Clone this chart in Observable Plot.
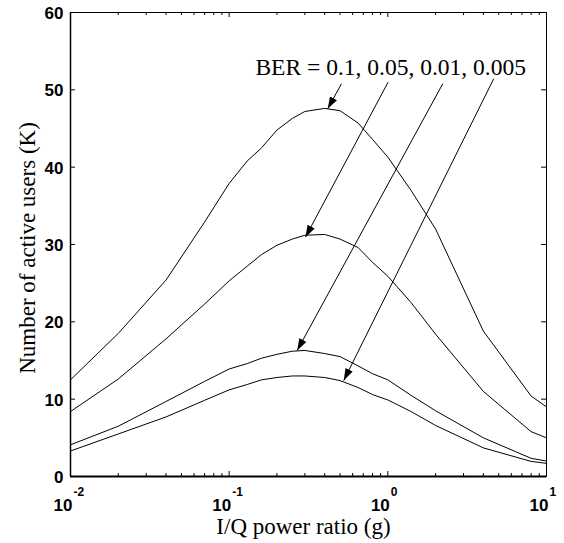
<!DOCTYPE html>
<html><head><meta charset="utf-8">
<script src="https://cdn.jsdelivr.net/npm/d3@7"></script>
<script src="https://cdn.jsdelivr.net/npm/@observablehq/plot@0.6"></script>
<style>body{margin:0;background:#fff}</style>
</head><body><div id="chart"></div>
<script>
// I/Q power ratio g (x) sample points
const gValues = [0.01,0.02,0.04,0.07,0.1,0.13,0.16,0.2,0.25,0.3,0.4,0.5,0.65,0.8,1,1.4,2,4,8,10];
// Number of active users K for each BER
const berLabels = ["0.1","0.05","0.01","0.005"];
const kBer01   = [12.5,18.5,25.4,32.9,37.9,40.8,42.5,44.8,46.3,47.2,47.6,47.3,45.7,43.6,41.3,37.0,32.0,18.8,10.4,9.0];
const kBer005  = [8.4,12.6,17.8,22.3,25.3,27.2,28.7,29.9,30.7,31.2,31.3,30.7,29.6,27.7,25.9,22.5,18.4,11.0,5.8,5.0];
const kBer001  = [4.1,6.5,9.7,12.3,13.9,14.6,15.3,15.8,16.2,16.3,15.9,15.5,14.3,13.3,12.5,10.5,8.5,5.0,2.35,2.0];
const kBer0005 = [3.3,5.5,7.7,9.85,11.2,11.9,12.5,12.8,13.0,13.0,12.8,12.4,11.5,10.6,9.9,8.4,6.6,3.7,1.95,1.7];

// axis ticks
const xMajor = [0.01,0.1,1,10];
const xExp = ["-2","-1","0","1"];
const xMinor = [0.02,0.03,0.04,0.05,0.06,0.07,0.08,0.09,0.2,0.3,0.4,0.5,0.6,0.7,0.8,0.9,2,3,4,5,6,7,8,9];
const yTicks = [0,10,20,30,40,50,60];
const yRight = [10,20,30,40,50];

// annotation: label anchor and arrows (data coordinates)
const annotG = [0.1464];
const annotK = [51.86];
const arrowG1 = [0.510,1.004,2.218,4.648];
const arrowK1 = [50.78,50.99,50.78,51.43];
const arrowG2 = [0.418,0.3026,0.2683,0.5274];
const arrowK2 = [47.55,30.95,16.29,12.41];

const series = [kBer01,kBer005,kBer001,kBer0005];
const table = series.flatMap((ks, s) => ks.map((k, i) => ({g: gValues[i], k, ber: berLabels[s]})));
const arrows = arrowG1.map((d, i) => ({x1: d, y1: arrowK1[i], x2: arrowG2[i], y2: arrowK2[i]}));
const annot = [{g: annotG[0], k: annotK[0], text: "BER = " + berLabels.join(", ")}];

const W = 564, H = 543, mL = 70, mR = 18, mT = 12, mB = 67;
const innerH = H - mT - mB, innerW = W - mL - mR;
const serif = "'Liberation Serif', 'Times New Roman', serif";

const chart = Plot.plot({
  width: W, height: H,
  marginLeft: mL, marginRight: mR, marginTop: mT, marginBottom: mB,
  x: {type: "log", domain: [0.01, 10], axis: null},
  y: {domain: [0, 60], axis: null},
  style: {fontFamily: "'Liberation Sans', Arial, sans-serif", fontSize: "17px", background: "white", color: "black"},
  marks: [
    Plot.line(table, {x: "g", y: "k", z: "ber", stroke: "black", strokeWidth: 1}),
    // ticks (inward)
    Plot.ruleX(xMajor, {insetTop: innerH - 5, stroke: "black"}),
    Plot.ruleX(xMajor, {insetBottom: innerH - 5, stroke: "black"}),
    Plot.ruleX(xMinor, {insetTop: innerH - 3, stroke: "black"}),
    Plot.ruleX(xMinor, {insetBottom: innerH - 3, stroke: "black"}),
    Plot.ruleY(yTicks, {insetRight: innerW - 5, stroke: "black"}),
    Plot.ruleY(yRight, {insetLeft: innerW - 5, stroke: "black"}),
    // frame
    Plot.frame({stroke: "black", strokeWidth: 1}),
    Plot.ruleY([0], {stroke: "black", strokeWidth: 2}),
    Plot.ruleX([0.01], {stroke: "black", strokeWidth: 1.5}),
    // tick labels
    Plot.text(yTicks, {y: d => d, text: d => String(d), frameAnchor: "left", textAnchor: "end", dx: -7, dy: 1, fontSize: 17, fontWeight: "bold"}),
    Plot.text(xMajor, {x: d => d, text: () => "10", frameAnchor: "bottom", textAnchor: "end", lineAnchor: "bottom", dx: 2, dy: 34, fontSize: 17, fontWeight: "bold"}),
    Plot.text(xMajor, {x: d => d, text: (d, i) => xExp[i], frameAnchor: "bottom", textAnchor: "start", lineAnchor: "bottom", dx: 3, dy: 19, fontSize: 12, fontWeight: "bold"}),
    // axis titles
    Plot.text(["I/Q power ratio (g)"], {frameAnchor: "bottom", textAnchor: "middle", lineAnchor: "bottom", dx: -5, dy: 57, fontFamily: serif, fontSize: 23}),
    Plot.text(["Number of active users (K)"], {frameAnchor: "left", textAnchor: "middle", rotate: -90, lineAnchor: "bottom", dx: -35.5, dy: 3.5, fontFamily: serif, fontSize: 23}),
    // annotation
    Plot.text(annot, {x: "g", y: "k", text: "text", textAnchor: "start", lineAnchor: "bottom", fontFamily: serif, fontSize: 23.5}),
    Plot.link(arrows, {x1: "x1", y1: "y1", x2: "x2", y2: "y2", stroke: "black", strokeWidth: 1})
  ]
});

// filled arrowheads
const svg = d3.select(chart);
const marker = svg.append("defs").append("marker")
  .attr("id", "berArrowHead").attr("viewBox", "0 0 12 8")
  .attr("refX", 12).attr("refY", 4)
  .attr("markerWidth", 12).attr("markerHeight", 8)
  .attr("markerUnits", "userSpaceOnUse").attr("orient", "auto");
marker.append("path").attr("d", "M0,0L12,4L0,8Z").attr("fill", "black");
svg.selectAll("g[aria-label='link'] path").attr("marker-end", "url(#berArrowHead)");

document.getElementById("chart").appendChild(chart);
</script>
</body></html>
